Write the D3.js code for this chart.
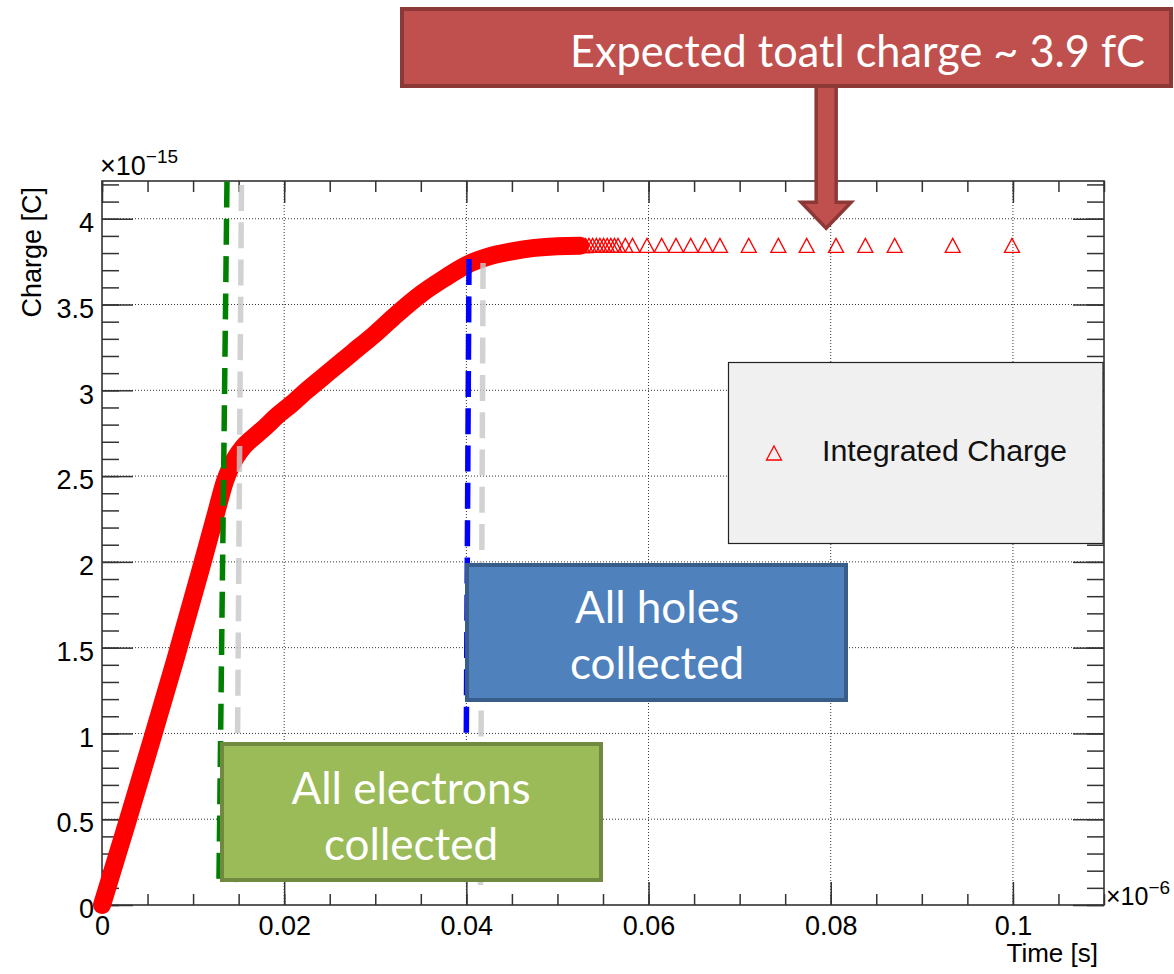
<!DOCTYPE html>
<html>
<head>
<meta charset="utf-8">
<script src="https://cdn.jsdelivr.net/npm/d3@7"></script>
<style>
  html, body { margin: 0; padding: 0; background: #fff; }
  svg { display: block; }
</style>
</head>
<body>
<svg id="chart" width="1174" height="974"></svg>
<script>
// Integrated charge versus time.
// Time is in units of 1e-6 s, charge in units of 1e-15 C.
const curveTime   = [0, 0.0027, 0.0054, 0.0081, 0.0108, 0.0125, 0.0135, 0.0141, 0.0147, 0.0155, 0.0165, 0.0178, 0.0192, 0.0208, 0.0225, 0.025, 0.0275, 0.03, 0.0325, 0.035, 0.0375, 0.04, 0.0425, 0.045, 0.0475, 0.05, 0.0525];
const curveCharge = [0, 0.47, 0.95, 1.44, 1.95, 2.28, 2.47, 2.55, 2.61, 2.67, 2.72, 2.78, 2.85, 2.92, 3.0, 3.11, 3.22, 3.33, 3.45, 3.56, 3.65, 3.73, 3.78, 3.81, 3.83, 3.84, 3.843];

// Sparser samples on the plateau, drawn as open triangles
const tailTime   = [0.0527, 0.0531, 0.05346, 0.05386, 0.05427, 0.05466, 0.05506, 0.05546, 0.05586, 0.05626, 0.05665, 0.05745, 0.05824, 0.05983, 0.06144, 0.06301, 0.06463, 0.06623, 0.06784, 0.0710, 0.07425, 0.07736, 0.08058, 0.0838, 0.08702, 0.09339, 0.0999];
const tailCharge = [3.844, 3.844, 3.845, 3.845, 3.845, 3.845, 3.845, 3.845, 3.845, 3.845, 3.845, 3.845, 3.845, 3.845, 3.845, 3.845, 3.845, 3.845, 3.845, 3.845, 3.845, 3.845, 3.845, 3.845, 3.845, 3.845, 3.845];

// Collection-time markers: [top, bottom] end points as (time, charge)
const electronTime    = [0.01372, 0.01284];
const electronCharge  = [4.217, 0.146];
const electronRefTime = [0.01531, 0.01477];
const electronRefCharge = [4.197, 0.117];
const holeTime    = [0.04029, 0.0399];
const holeCharge  = [3.765, 0.122];
const holeRefTime = [0.04183, 0.04155];
const holeRefCharge = [3.742, 0.117];

// Axis ticks
const xMajor = [0, 0.02, 0.04, 0.06, 0.08, 0.1];
const xTickLabels = ["0", "0.02", "0.04", "0.06", "0.08", "0.1"];
const yMajor = [0, 0.5, 1, 1.5, 2, 2.5, 3, 3.5, 4];
const yTickLabels = ["0", "0.5", "1", "1.5", "2", "2.5", "3", "3.5", "4"];
const xMinor = d3.range(0, 23).map(i => i * 0.005);
const yMinor = d3.range(0, 43).map(i => +(i * 0.1).toFixed(1));

const xDomain = [0, 0.11];
const yDomain = [0, 4.22];

// Callout anchor (time, charge) for the arrow tip
const expectedTip = [0.0795, 3.945];

// ---------------------------------------------------------------------
const svg = d3.select("#chart");
const L = 102, R = 1104, T = 181, B = 905;
const x = d3.scaleLinear().domain(xDomain).range([L, R]);
const y = d3.scaleLinear().domain(yDomain).range([B, T]);
const axisFont = "'Liberation Sans', Arial, Helvetica, sans-serif";
const slideFont = "Lato, 'Open Sans', sans-serif";

// grid
const grid = svg.append("g").attr("stroke", "#333").attr("stroke-width", 1)
  .attr("stroke-dasharray", "1,2").attr("fill", "none");
grid.selectAll("line.gx").data(xMajor.filter(d => d > 0)).join("line")
  .attr("x1", d => x(d)).attr("x2", d => x(d)).attr("y1", T).attr("y2", B);
grid.selectAll("line.gy").data(yMajor.filter(d => d > 0)).join("line")
  .attr("x1", L).attr("x2", R).attr("y1", d => y(d)).attr("y2", d => y(d));

// ticks on all four sides, pointing inward
const tickColor = "#333";
function drawAxis(axis, tx, ty) {
  const g = svg.append("g").attr("transform", `translate(${tx},${ty})`).call(axis);
  g.select(".domain").remove();
  g.selectAll(".tick line").attr("stroke", tickColor).attr("stroke-width", 1.5);
  return g;
}
drawAxis(d3.axisBottom(x).tickValues(xMinor).tickSize(-11).tickFormat(""), 0, B);
drawAxis(d3.axisTop(x).tickValues(xMinor).tickSize(-11).tickFormat(""), 0, T);
drawAxis(d3.axisLeft(y).tickValues(yMinor).tickSize(-17).tickFormat(""), L, 0);
drawAxis(d3.axisRight(y).tickValues(yMinor).tickSize(-17).tickFormat(""), R, 0);
drawAxis(d3.axisTop(x).tickValues(xMajor).tickSize(-22).tickFormat(""), 0, T);
drawAxis(d3.axisRight(y).tickValues(yMajor).tickSize(-31).tickFormat(""), R, 0);

const xb = drawAxis(d3.axisBottom(x).tickValues(xMajor).tickSize(-23).tickPadding(11)
  .tickFormat((d, i) => xTickLabels[i]), 0, B);
xb.selectAll(".tick text").attr("font-family", axisFont).attr("font-size", 27).attr("fill", "#000");

const yl = drawAxis(d3.axisLeft(y).tickValues(yMajor).tickSize(-31).tickPadding(8)
  .tickFormat((d, i) => yTickLabels[i]), L, 0);
yl.selectAll(".tick text").attr("font-family", axisFont).attr("font-size", 27)
  .attr("fill", "#000").attr("dy", "0.47em");

// frame
svg.append("rect").attr("x", L).attr("y", T).attr("width", R - L).attr("height", B - T)
  .attr("fill", "none").attr("stroke", "#333").attr("stroke-width", 1.6);

// axis titles and exponents
svg.append("text").attr("x", 1098).attr("y", 962).attr("text-anchor", "end")
  .attr("font-family", axisFont).attr("font-size", 26).text("Time [s]");
svg.append("text").attr("transform", "translate(41,187) rotate(-90)").attr("text-anchor", "end")
  .attr("font-family", axisFont).attr("font-size", 27).text("Charge [C]");

const e15 = svg.append("text").attr("x", 100).attr("y", 175)
  .attr("font-family", axisFont).attr("font-size", 27);
e15.append("tspan").text("\u00d710");
e15.append("tspan").attr("font-size", 19).attr("dy", -12).text("\u221215");

const e6 = svg.append("text").attr("x", 1106).attr("y", 905)
  .attr("font-family", axisFont).attr("font-size", 25);
e6.append("tspan").text("\u00d710");
e6.append("tspan").attr("font-size", 19).attr("dy", -11).text("\u22126");

// charge curve: densely sampled markers merge into a thick band
const curve = curveTime.map((t, i) => [t, curveCharge[i]]);
svg.append("path").datum(curve)
  .attr("d", d3.line().x(d => x(d[0])).y(d => y(d[1])).curve(d3.curveMonotoneX))
  .attr("fill", "none").attr("stroke", "#ff0000").attr("stroke-width", 18)
  .attr("stroke-linejoin", "round").attr("stroke-linecap", "round");

const tri = "M0,-7L7.5,7L-7.5,7Z";
svg.append("g").selectAll("path").data(tailTime.map((t, i) => [t, tailCharge[i]])).join("path")
  .attr("d", tri).attr("transform", d => `translate(${x(d[0])},${y(d[1])})`)
  .attr("fill", "none").attr("stroke", "#ff0000").attr("stroke-width", 1.3);

// collection-time markers
function marker(times, charges, color, opacity) {
  svg.append("line")
    .attr("x1", x(times[0])).attr("y1", y(charges[0]))
    .attr("x2", x(times[1])).attr("y2", y(charges[1]))
    .attr("stroke", color).attr("stroke-width", 5.5).attr("stroke-opacity", opacity)
    .attr("stroke-dasharray", "26,11.3");
}
marker(electronRefTime, electronRefCharge, "#c8c8c8", 0.82);
marker(holeRefTime, holeRefCharge, "#c8c8c8", 0.82);
marker(electronTime, electronCharge, "#008000", 1);
marker(holeTime, holeCharge, "#0000ff", 1);

// annotation boxes
function box(x0, y0, w, h, fill, edge, lines, cx, baselines, size) {
  svg.append("rect").attr("x", x0 + 2).attr("y", y0 + 2).attr("width", w - 4).attr("height", h - 4)
    .attr("fill", fill).attr("stroke", edge).attr("stroke-width", 4);
  lines.forEach((s, i) => {
    svg.append("text").attr("x", cx).attr("y", baselines[i]).attr("text-anchor", "middle")
      .attr("font-family", slideFont).attr("font-size", size).attr("fill", "#fff").text(s);
  });
}
box(465, 563, 383, 139, "#4f81bd", "#385d8a", ["All holes", "collected"], 657, [623, 679], 44);
box(220, 742, 383, 140, "#9bbb59", "#71893f", ["All electrons", "collected"], 411, [804, 860], 44);

// legend
svg.append("rect").attr("x", 728.5).attr("y", 362.5).attr("width", 374.5).attr("height", 181)
  .attr("fill", "#f0f0f0").attr("stroke", "#222").attr("stroke-width", 1.2);
svg.append("path").attr("d", tri).attr("transform", "translate(774,453)")
  .attr("fill", "none").attr("stroke", "#ff0000").attr("stroke-width", 1.3);
svg.append("text").attr("x", 822).attr("y", 461).attr("font-family", axisFont)
  .attr("font-size", 29).attr("fill", "#111")
  .attr("textLength", 245).attr("lengthAdjust", "spacingAndGlyphs")
  .text("Integrated Charge");

// expected-charge callout with arrow
const tipX = x(expectedTip[0]), tipY = y(expectedTip[1]);
svg.append("path")
  .attr("d", `M${tipX - 10},86 L${tipX + 10},86 L${tipX + 10},${tipY - 26} L${tipX + 25},${tipY - 26}
              L${tipX},${tipY} L${tipX - 25},${tipY - 26} L${tipX - 10},${tipY - 26} Z`)
  .attr("fill", "#c0504d").attr("stroke", "#8c3836").attr("stroke-width", 3.5)
  .attr("stroke-linejoin", "miter");
svg.append("rect").attr("x", 402).attr("y", 9).attr("width", 769).attr("height", 77)
  .attr("fill", "#c0504d").attr("stroke", "#8c3836").attr("stroke-width", 4);
svg.append("text").attr("x", 570).attr("y", 67).attr("font-family", slideFont)
  .attr("font-size", 44).attr("fill", "#fff")
  .attr("textLength", 575).attr("lengthAdjust", "spacingAndGlyphs")
  .text("Expected toatl charge ~ 3.9 fC");
</script>
</body>
</html>
